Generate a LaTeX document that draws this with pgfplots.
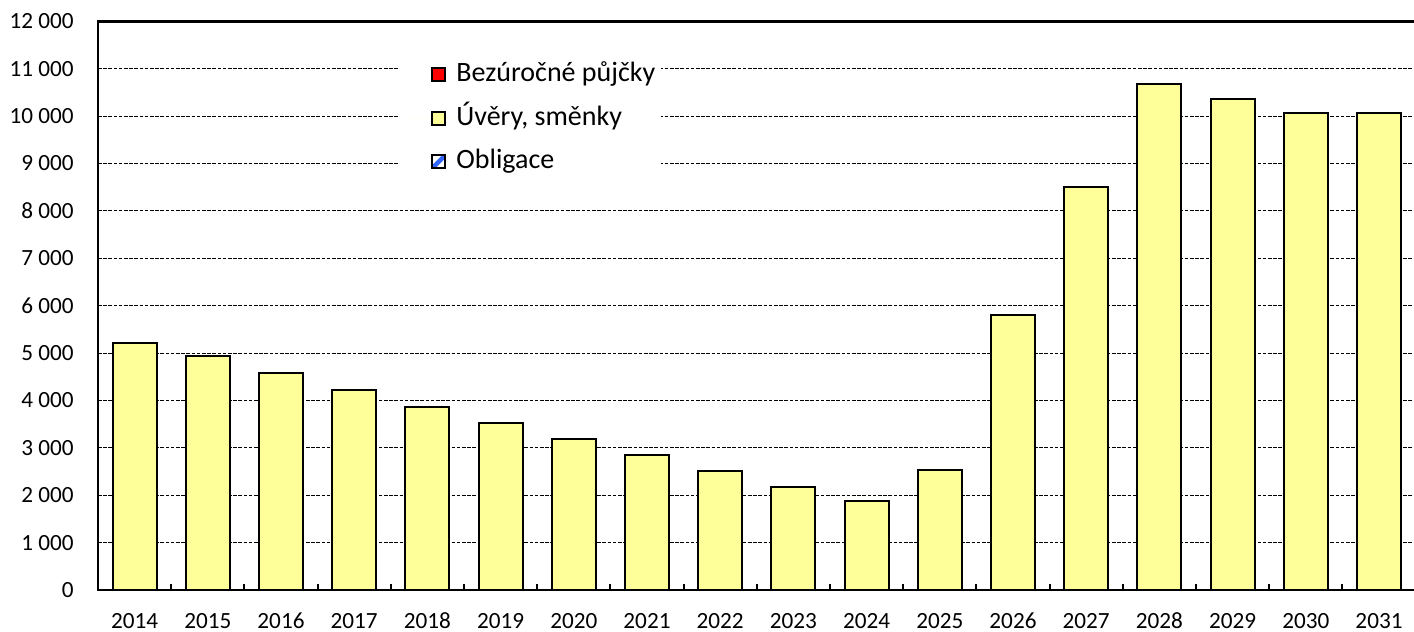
\documentclass[border=0pt]{standalone}
\usepackage{fontspec}
\setmainfont{Carlito}
\usepackage{pgfplots}
\pgfplotsset{compat=1.18}
\definecolor{barfill}{HTML}{FFFF99}
\definecolor{oblblue}{HTML}{3366FF}
\begin{document}
\begin{tikzpicture}
\begin{axis}[
  at={(0,0)}, anchor=south west,
  scale only axis,
  width=658.8pt, height=284.3pt,
  font=\fontsize{11.6}{14}\selectfont,
  /pgf/number format/assume math mode=true,
  /pgf/number format/1000 sep={\ },
  axis line style={line width=1.2pt},
  xmin=-0.5, xmax=17.5,
  ymin=0, ymax=12000,
  ytick={0,1000,...,12000},
  xtick={0,...,17},
  xticklabels={2014,2015,2016,2017,2018,2019,2020,2021,2022,2023,2024,2025,2026,2027,2028,2029,2030,2031},
  minor xtick={0.5,1.5,...,16.5},
  major tick length=0pt,
  minor tick length=3pt,
  tick align=inside,
  tick pos=left,
  minor tick style={line width=1pt, black, yshift=3pt},
  ymajorgrids,
  grid style={black, line width=0.5pt, dash pattern=on 1.8pt off 0.8pt},
  yticklabel style={xshift=-8.6pt},
  xticklabel style={yshift=-8pt},
  scaled y ticks=false,
  ybar, bar width=22pt,
  legend cell align=left,
  legend style={at={(0.2292,0.9386)}, anchor=north west, draw=none, fill=white,
    inner xsep=3pt, inner ysep=2.5pt, row sep=8.75pt,
    nodes={inner sep=0pt, text height=10pt, text depth=3pt},
    font=\fontsize{14}{16}\selectfont},
]
\addlegendimage{legend image code/.code={
  \path[draw=none] (-13pt,0) -- (12pt,0);
  \draw[fill=red, line width=1pt] (0pt,-3.2pt) rectangle (6.4pt,3.2pt);}}
\addlegendentry{Bezúročné půjčky}
\addplot[fill=barfill, draw=black, line width=1pt,
  legend image code/.code={
    \path[draw=none] (-13pt,0) -- (12pt,0);
    \draw[fill=barfill, line width=1pt] (0pt,-3.2pt) rectangle (6.4pt,3.2pt);}]
  coordinates {
  (0,5210) (1,4930) (2,4572) (3,4227) (4,3869) (5,3521) (6,3180)
  (7,2852) (8,2514) (9,2184) (10,1873) (11,2543) (12,5795) (13,8502)
  (14,10683) (15,10366) (16,10063) (17,10063)
};
\addlegendentry{Úvěry, směnky}
\addlegendimage{legend image code/.code={
  \path[draw=none] (-13pt,0) -- (12pt,0);
  \begin{scope}
    \clip (0pt,-3.2pt) rectangle (6.4pt,3.2pt);
    \fill[white] (0pt,-3.2pt) rectangle (6.4pt,3.2pt);
    \draw[oblblue, line width=2.2pt] (0pt,-3.2pt) -- (6.4pt,3.2pt);
  \end{scope}
  \draw[line width=1pt] (0pt,-3.2pt) rectangle (6.4pt,3.2pt);}}
\addlegendentry{Obligace}
\end{axis}
\pgfresetboundingbox
\path (-49pt,-21pt) rectangle (658pt,295pt);
\end{tikzpicture}
\end{document}
